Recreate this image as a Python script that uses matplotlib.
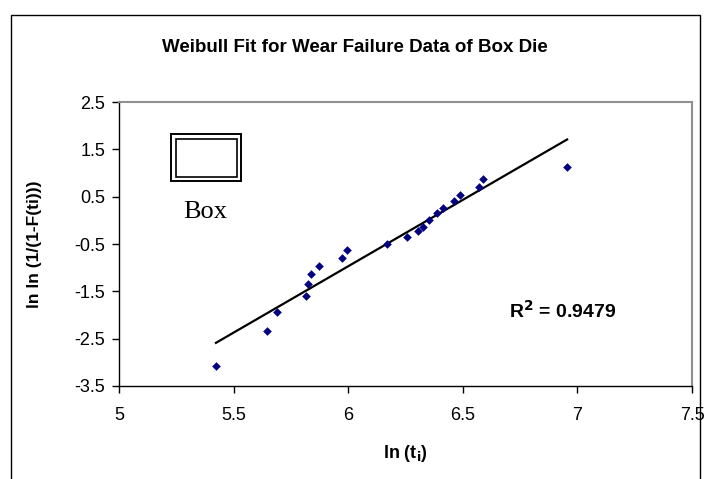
import numpy as np
import matplotlib
matplotlib.use("Agg")
import matplotlib.pyplot as plt
from matplotlib.patches import Rectangle

plt.rcParams['font.family'] = ['Liberation Sans', 'DejaVu Sans']
plt.rcParams['axes.unicode_minus'] = False

# Data
ln_t = [5.423, 5.646, 5.689, 5.816, 5.825, 5.838, 5.873, 5.973, 5.995, 6.169,
        6.257, 6.305, 6.326, 6.353, 6.387, 6.414, 6.462, 6.488, 6.571, 6.588, 6.955]
ln_ln = [-3.078, -2.338, -1.937, -1.599, -1.345, -1.134, -0.965, -0.796, -0.627, -0.500,
         -0.352, -0.226, -0.141, 0.007, 0.155, 0.260, 0.408, 0.535, 0.704, 0.873, 1.127]
x_ticks = [5, 5.5, 6, 6.5, 7, 7.5]
x_tick_labels = ["5", "5.5", "6", "6.5", "7", "7.5"]
y_ticks = [2.5, 1.5, 0.5, -0.5, -1.5, -2.5, -3.5]
y_tick_labels = ["2.5", "1.5", "0.5", "-0.5", "-1.5", "-2.5", "-3.5"]
r2_text = "R$\\mathbf{^2}$ = 0.9479"
title = "Weibull Fit for Wear Failure Data of Box Die"

W, H = 709, 479
fig = plt.figure(figsize=(W / 100, H / 100), dpi=100)
fig.patch.set_facecolor("white")

# chart area frame
fig.add_artist(Rectangle((11 / W, -0.05), (700 - 11) / W, 1.05 - 15 / H,
                         transform=fig.transFigure, fill=False,
                         edgecolor="black", linewidth=1.0))

ax = fig.add_axes([119 / W, 1 - 386 / H, (692 - 119) / W, (386 - 102) / H])

x = np.array(ln_t)
y = np.array(ln_ln)
ax.scatter(x, y, marker="D", s=4.4 ** 2, color="#000080", zorder=3, linewidths=0)

coef = np.polyfit(x, y, 1)
xl = np.array([x.min(), x.max()])
ax.plot(xl, np.polyval(coef, xl), color="black", linewidth=1.6, zorder=2)

ax.set_xlim(5, 7.5)
ax.set_ylim(-3.5, 2.5)
ax.set_xticks(x_ticks)
ax.set_xticklabels(x_tick_labels)
ax.set_yticks(y_ticks)
ax.set_yticklabels(y_tick_labels)
ax.tick_params(direction="out", length=5, width=1, labelsize=13, colors="black")
ax.tick_params(axis="x", pad=10)
ax.tick_params(axis="y", pad=5)

for s in ["left", "bottom"]:
    ax.spines[s].set_color("black")
    ax.spines[s].set_linewidth(1.0)
for s in ["top", "right"]:
    ax.spines[s].set_color("#909090")
    ax.spines[s].set_linewidth(1.5)

ax.set_xlabel("ln (t$\\mathbf{_i}$)", fontsize=13, fontweight="bold", va="center")
ax.xaxis.set_label_coords(0.5, (386 - 453) / 284)
ax.set_ylabel("ln ln (1/(1-F(ti)))", fontsize=12.5, fontweight="bold", va="center")
ax.yaxis.set_label_coords((35 - 119) / 573, 0.5)

fig.text(355 / W, 1 - 47 / H, title, ha="center", va="center",
         fontsize=13.5, fontweight="bold")

fig.text(563 / W, 1 - 311 / H, r2_text, ha="center", va="center",
         fontsize=14, fontweight="bold")

# box icon
fig.add_artist(Rectangle((171 / W, 1 - 181 / H), 70 / W, 47 / H,
                         transform=fig.transFigure, fill=False,
                         edgecolor="black", linewidth=1.4))
fig.add_artist(Rectangle((175.5 / W, 1 - 176.5 / H), 61 / W, 38 / H,
                         transform=fig.transFigure, fill=False,
                         edgecolor="black", linewidth=1.2))
fig.text(205 / W, 1 - 212 / H, "Box", ha="center", va="center",
         fontsize=19, family="Liberation Serif")

fig.savefig("out.png", dpi=100)
